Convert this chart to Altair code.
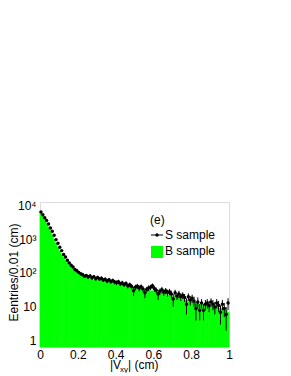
import altair as alt
import pandas as pd

bin_width = 0.01
bin_lo = [round(i * bin_width, 2) for i in range(100)]

s_counts = [6200, 5150, 4250, 3500, 2750, 2100, 1680, 1290, 960, 750,
            575, 455, 350, 295, 238, 198, 168, 150, 126, 116,
            104, 95, 90, 80, 84, 76, 82, 72, 78, 68,
            74, 66, 70, 62, 65, 58, 63, 56, 60, 54,
            52, 55, 48, 51, 46, 49, 42, 45, 40, 30,
            38, 41, 36, 39, 34, 26, 33, 36, 38, 42,
            35, 31, 24, 29, 32, 27, 30, 26, 28, 24,
            17, 26, 21, 24, 20, 22, 19, 12, 20, 16,
            18, 15, 9, 14, 8, 13, 8, 12, 13, 11,
            14, 12, 10, 13, 11, 7, 12, 9, 6, 13]

s_err = [80, 72, 65, 60, 52, 46, 41, 36, 31, 27,
         24, 21, 19, 17, 15, 14, 13, 12, 11, 11,
         10, 10, 10, 9, 9, 9, 9, 9, 9, 9,
         9, 8, 9, 8, 8, 8, 8, 8, 8, 8,
         8, 8, 7, 8, 7, 8, 7, 7, 7, 9,
         7, 7, 7, 7, 7, 8, 6, 7, 7, 7,
         7, 6, 8, 6, 7, 6, 6, 6, 6, 6,
         7, 6, 5, 6, 5, 5, 5, 6, 5, 5,
         5, 5, 5, 5, 4, 4, 4, 4, 4, 4,
         4, 4, 4, 4, 4, 4, 4, 4, 4, 5]

b_counts = [5600, 4650, 3700, 2900, 2250, 1700, 1300, 960, 740, 560,
            440, 350, 285, 235, 200, 170, 148, 130, 115, 104,
            95, 88, 82, 78, 72, 70, 66, 68, 62, 64,
            60, 58, 61, 55, 57, 52, 54, 50, 51, 47,
            46, 48, 43, 45, 41, 42, 38, 40, 36, 37,
            33, 35, 31, 33, 30, 32, 28, 31, 29, 30,
            28, 26, 27, 24, 25, 23, 24, 21, 22, 20,
            19, 20, 18, 19, 16, 17, 15, 16, 14, 15,
            13, 14, 12, 13, 12, 11, 12, 10, 11, 10,
            10, 11, 9, 10, 9, 8, 9, 8, 8, 7]

x_ticks = [0, 0.2, 0.4, 0.6, 0.8, 1]
y_ticks = [1, 10, 100, 1000, 10000]

df = pd.DataFrame({
    "lo": bin_lo,
    "hi": [round(v + bin_width, 2) for v in bin_lo],
    "xc": [round(v + bin_width / 2, 3) for v in bin_lo],
    "S": s_counts,
    "err": s_err,
    "B": b_counts,
})

W, H = 189, 145
FONT = "Liberation Sans"
GREEN = "#00ff00"

xscale = alt.Scale(domain=[0, 1], nice=False, zero=False)
yscale = alt.Scale(type="log", domain=[0.66, 12300], nice=False)

xaxis = alt.Axis(values=x_ticks, format="~g", labelFlush=False, labelOverlap=False,
                 ticks=False, domain=False, grid=False, labelPadding=2, labelFontSize=12,
                 labelColor="black", labelFont=FONT, title=None)
yaxis = alt.Axis(values=y_ticks,
                 labelExpr="datum.value == 1 ? '1' : datum.value == 10 ? '10' : datum.value == 100 ? '10²' : datum.value == 1000 ? '10³' : '10⁴'",
                 labelOverlap=False, ticks=False, domain=False, grid=False, labelPadding=4,
                 labelFontSize=12, labelColor="black", labelFont=FONT,
                 title="Eentries/0.01 (cm)", titleAngle=270, titleX=-27, titleY=70,
                 titleAlign="center", titleBaseline="middle", titleFontSize=12,
                 titleFontWeight="normal", titleFont=FONT, titleColor="black")

base = alt.Chart(df)

bars = base.mark_rect(color=GREEN, stroke=GREEN, strokeWidth=0.8).encode(
    x=alt.X("lo:Q", scale=xscale, axis=xaxis),
    x2="hi:Q",
    y=alt.Y("B:Q", scale=yscale, axis=yaxis),
    y2=alt.value(H),
)

errs = base.transform_calculate(
    e_lo="max(datum.S - datum.err, 0.7)",
    e_hi="datum.S + datum.err",
).mark_rule(color="black", strokeWidth=1).encode(
    x=alt.X("xc:Q", scale=xscale, axis=xaxis),
    y=alt.Y("e_lo:Q", scale=yscale, axis=yaxis),
    y2="e_hi:Q",
)

pts = base.mark_circle(color="black", size=12, opacity=1).encode(
    x=alt.X("xc:Q", scale=xscale, axis=xaxis),
    y=alt.Y("S:Q", scale=yscale, axis=yaxis),
)

one = pd.DataFrame({"k": [0]})
leg = alt.Chart(one)

def txt(t, x, y, size=12, align="left", baseline="middle"):
    return leg.mark_text(text=t, font=FONT, fontSize=size, align=align,
                         baseline=baseline, color="black").encode(
        x=alt.value(x), y=alt.value(y))

leg_e = txt("(e)", 110, 18)
leg_s = txt("S sample", 125, 33)
leg_b = txt("B sample", 125, 49)
leg_line = leg.mark_rule(color="black", strokeWidth=1).encode(
    x=alt.value(111), x2=alt.value(123), y=alt.value(33))
leg_dot = leg.mark_circle(color="black", size=12, opacity=1).encode(
    x=alt.value(117), y=alt.value(33))
leg_box = leg.mark_rect(color=GREEN).encode(
    x=alt.value(111), x2=alt.value(123), y=alt.value(44), y2=alt.value(56))

xt1 = txt("|V", 70, 167, baseline="alphabetic")
xt2 = txt("xy", 80, 170, size=8, baseline="alphabetic")
xt3 = txt("| (cm)", 88, 167, baseline="alphabetic")

chart = alt.layer(bars, errs, pts, leg_e, leg_s, leg_b, leg_line, leg_dot, leg_box,
                  xt1, xt2, xt3).properties(
    width=W, height=H,
    autosize=alt.AutoSizeParams(type="none"),
    padding={"left": 32, "top": 194, "right": 54, "bottom": 26},
).configure_axis(labelOverlap=False).configure_view(
    stroke="#999999", strokeWidth=1).configure(background="white")

chart.save("out.html", embed_options={"renderer": "svg", "actions": False})
